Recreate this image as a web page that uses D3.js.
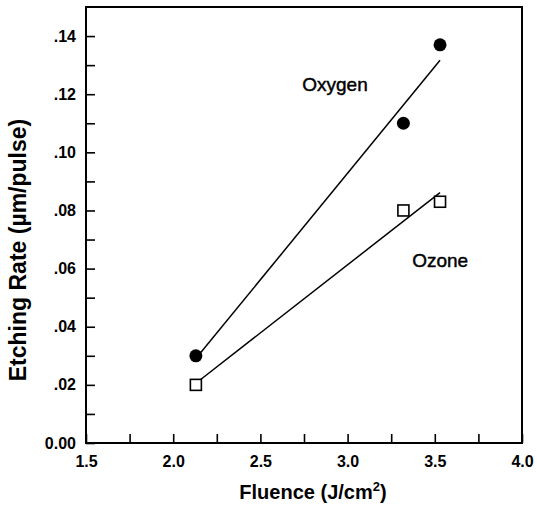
<!DOCTYPE html>
<html>
<head>
<meta charset="utf-8">
<script src="https://cdn.jsdelivr.net/npm/d3@7"></script>
<style>
  body { margin: 0; background: #fff; }
  svg text { font-family: "Liberation Sans", Arial, Helvetica, sans-serif; fill: #000; }
  .tick-label { font-size: 16px; font-weight: bold; }
  .axis-title { font-size: 20px; font-weight: bold; }
  .series-label { font-size: 19px; stroke: #000; stroke-width: 0.45px; }
</style>
</head>
<body>
<svg id="chart"></svg>
<script>
// ── Data ─────────────────────────────────────────────────────────────────
const fluence    = [2.13, 3.32, 3.53];          // J/cm^2
const oxygenRate = [0.030, 0.110, 0.137];       // µm/pulse
const ozoneRate  = [0.020, 0.080, 0.083];       // µm/pulse

const xTicks      = [1.5, 2.0, 2.5, 3.0, 3.5, 4.0];
const xTickLabels = ['1.5', '2.0', '2.5', '3.0', '3.5', '4.0'];
const xMinor      = [1.75, 2.25, 2.75, 3.25, 3.75];
const yTicks      = [0, 0.02, 0.04, 0.06, 0.08, 0.10, 0.12, 0.14];
const yTickLabels = ['0.00', '.02', '.04', '.06', '.08', '.10', '.12', '.14'];
const yMinor      = [0.01, 0.03, 0.05, 0.07, 0.09, 0.11, 0.13];

const W = 537, H = 510;
const margin = { top: 7, right: 15, bottom: 67, left: 86 };
const iw = W - margin.left - margin.right;
const ih = H - margin.top - margin.bottom;

const svg = d3.select('#chart').attr('width', W).attr('height', H);
const g = svg.append('g').attr('transform', `translate(${margin.left},${margin.top})`);

const x = d3.scaleLinear().domain([1.5, 4.0]).range([0, iw]);
const y = d3.scaleLinear().domain([0, 0.15]).range([ih, 0]);

// ── Ticks (inward) ───────────────────────────────────────────────────────
function styleAxis(sel) {
  sel.select('.domain').remove();
  sel.selectAll('.tick line').attr('stroke', '#000').attr('stroke-width', 1.6);
}

g.append('g')
  .attr('transform', `translate(0,${ih})`)
  .call(d3.axisBottom(x).tickValues(xTicks)
    .tickFormat((d, i) => xTickLabels[i]).tickSize(-9).tickPadding(13))
  .call(styleAxis)
  .call(s => s.selectAll('text').attr('class', 'tick-label').attr('font-size', null).attr('font-family', null));

g.append('g')
  .attr('transform', `translate(0,${ih})`)
  .call(d3.axisBottom(x).tickValues(xMinor).tickFormat('').tickSize(-9))
  .call(styleAxis);

g.append('g')
  .call(d3.axisLeft(y).tickValues(yTicks)
    .tickFormat((d, i) => yTickLabels[i]).tickSize(-9).tickPadding(10))
  .call(styleAxis)
  .call(s => s.selectAll('text').attr('class', 'tick-label').attr('font-size', null).attr('font-family', null));

g.append('g')
  .call(d3.axisLeft(y).tickValues(yMinor).tickFormat('').tickSize(-9))
  .call(styleAxis);

// frame
g.append('rect')
  .attr('width', iw).attr('height', ih)
  .attr('fill', 'none').attr('stroke', '#000').attr('stroke-width', 2);

// ── Linear fits ──────────────────────────────────────────────────────────
function linFit(xs, ys) {
  const mx = d3.mean(xs), my = d3.mean(ys);
  const sxy = d3.sum(xs, (v, i) => (v - mx) * (ys[i] - my));
  const sxx = d3.sum(xs, v => (v - mx) * (v - mx));
  const b = sxy / sxx;
  return v => my + b * (v - mx);
}

const line = d3.line().x(d => x(d[0])).y(d => y(d[1]));
const xExt = d3.extent(fluence);

[oxygenRate, ozoneRate].forEach(rates => {
  const f = linFit(fluence, rates);
  g.append('path')
    .attr('d', line(xExt.map(v => [v, f(v)])))
    .attr('fill', 'none')
    .attr('stroke', '#000')
    .attr('stroke-width', 1.5);
});

// ── Markers ──────────────────────────────────────────────────────────────
g.selectAll('.oxy')
  .data(fluence)
  .join('circle')
  .attr('class', 'oxy')
  .attr('cx', d => x(d))
  .attr('cy', (d, i) => y(oxygenRate[i]))
  .attr('r', 6.5)
  .attr('fill', '#000');

const sq = 11;
g.selectAll('.ozo')
  .data(fluence)
  .join('rect')
  .attr('class', 'ozo')
  .attr('x', d => x(d) - sq / 2)
  .attr('y', (d, i) => y(ozoneRate[i]) - sq / 2)
  .attr('width', sq).attr('height', sq)
  .attr('fill', '#fff')
  .attr('stroke', '#000')
  .attr('stroke-width', 1.6);

// ── Series labels ────────────────────────────────────────────────────────
g.append('text').attr('class', 'series-label')
  .attr('x', x(2.74)).attr('y', y(0.121)).text('Oxygen');
g.append('text').attr('class', 'series-label')
  .attr('x', x(3.37)).attr('y', y(0.0606)).text('Ozone');

// ── Axis titles ──────────────────────────────────────────────────────────
const xt = svg.append('text').attr('class', 'axis-title')
  .attr('x', 313).attr('y', 499).attr('text-anchor', 'middle');
xt.append('tspan').text('Fluence (J/cm');
xt.append('tspan').attr('font-size', '13px').attr('dy', '-8').text('2');
xt.append('tspan').attr('dy', '8').text(')');

svg.append('text').attr('class', 'axis-title')
  .attr('transform', 'translate(26,250) rotate(-90)')
  .attr('text-anchor', 'middle')
  .style('font-size', '23px')
  .text('Etching Rate (µm/pulse)');
</script>
</body>
</html>
